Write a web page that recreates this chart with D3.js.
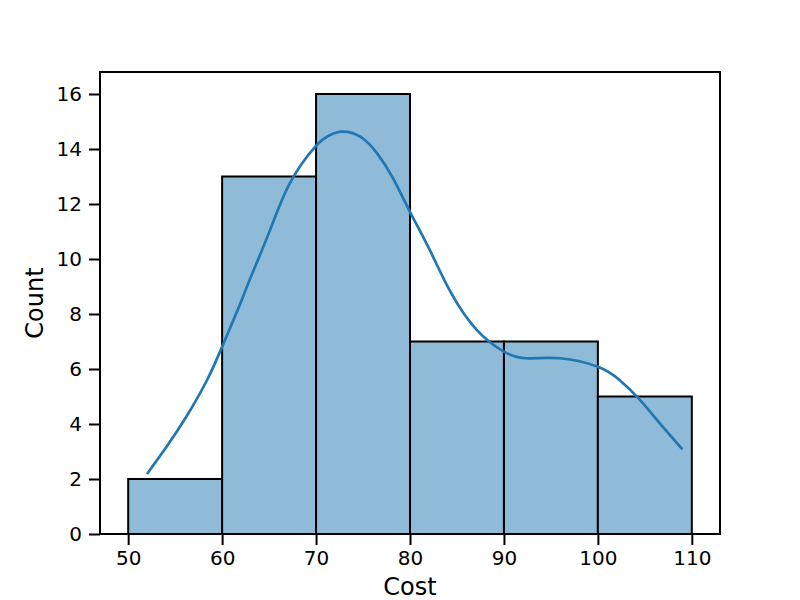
<!DOCTYPE html>
<html>
<head>
<meta charset="utf-8">
<script src="https://cdn.jsdelivr.net/npm/d3@7"></script>
<style>
  body { margin: 0; background: #fff; }
  text { font-family: "DejaVu Sans", sans-serif; fill: #000; }
</style>
</head>
<body>
<div id="chart"></div>
<script>
// histogram bins (Cost) and counts
const binEdges = [50, 60, 70, 80, 90, 100, 110];
const counts = [2, 13, 16, 7, 7, 5];

// kde curve (x = cost, y = scaled count)
const kdeX = [52.0, 54.1, 56.2, 58.4, 60.0, 61.9, 63.0, 65.1, 67.2, 69.9, 71.5, 72.8, 74.7, 76.5, 78.2, 79.9, 82.1, 84.3, 87.1, 90.0, 92.4, 96.0, 100.0, 102.3, 104.5, 106.6, 109.0];
const kdeY = [2.18, 3.18, 4.27, 5.6, 6.81, 8.35, 9.3, 11.05, 12.75, 14.08, 14.51, 14.63, 14.45, 13.84, 12.93, 11.78, 10.33, 8.81, 7.42, 6.63, 6.39, 6.39, 6.08, 5.6, 4.87, 4.02, 3.08];

const xTicks = [50, 60, 70, 80, 90, 100, 110];
const yTicks = [0, 2, 4, 6, 8, 10, 12, 14, 16];

function ready(fn) {
  if (document.readyState != 'loading') {
    fn();
  } else {
    document.addEventListener('DOMContentLoaded', fn);
  }
}

ready(main);

function main() {
  let width = 800;
  let height = 600;
  let margin = ({top: 72, right: 80, bottom: 66, left: 100});

  let bins = counts.map((c, i) => ({x0: binEdges[i], x1: binEdges[i + 1], n: c}));
  let kde = kdeX.map((x, i) => ({x: x, y: kdeY[i]}));

  let x = d3.scaleLinear()
    .domain([47, 113])
    .range([margin.left, width - margin.right]);
  let y = d3.scaleLinear()
    .domain([0, 16.8])
    .range([height - margin.bottom, margin.top]);

  const svg = d3.select("#chart").append("svg")
    .attr("width", width)
    .attr("height", height)
    .attr("viewBox", [0, 0, width, height]);

  svg.append("g")
    .attr("fill", "#8fbbd9")
    .attr("stroke", "#000")
    .attr("stroke-width", 2)
    .selectAll("rect")
    .data(bins)
    .join("rect")
    .attr("x", d => x(d.x0))
    .attr("width", d => x(d.x1) - x(d.x0))
    .attr("y", d => y(d.n))
    .attr("height", d => y(0) - y(d.n));

  let line = d3.line()
    .x(d => x(d.x))
    .y(d => y(d.y))
    .curve(d3.curveNatural);

  svg.append("path")
    .datum(kde)
    .attr("fill", "none")
    .attr("stroke", "#1f77b4")
    .attr("stroke-width", 2.7)
    .attr("d", line);

  let xAxis = g => g
    .attr("transform", `translate(0,${height - margin.bottom})`)
    .call(d3.axisBottom(x).tickValues(xTicks).tickSize(11).tickPadding(6).tickSizeOuter(0))
    .call(g => g.select(".domain").remove())
    .call(g => g.selectAll(".tick line").attr("stroke-width", 2))
    .call(g => g.selectAll(".tick text").style("font-size", "20px"));

  let yAxis = g => g
    .attr("transform", `translate(${margin.left},0)`)
    .call(d3.axisLeft(y).tickValues(yTicks).tickSize(11).tickPadding(7).tickSizeOuter(0))
    .call(g => g.select(".domain").remove())
    .call(g => g.selectAll(".tick line").attr("stroke-width", 2))
    .call(g => g.selectAll(".tick text").style("font-size", "20px"));

  svg.append("g").call(xAxis);
  svg.append("g").call(yAxis);

  // frame
  svg.append("rect")
    .attr("x", margin.left)
    .attr("y", margin.top)
    .attr("width", width - margin.left - margin.right)
    .attr("height", height - margin.top - margin.bottom)
    .attr("fill", "none")
    .attr("stroke", "#000")
    .attr("stroke-width", 2);

  svg.append("text")
    .attr("text-anchor", "middle")
    .attr("x", (margin.left + width - margin.right) / 2)
    .attr("y", 595)
    .style("font-size", "24px")
    .text("Cost");

  svg.append("text")
    .attr("text-anchor", "middle")
    .attr("transform", `translate(43,${(margin.top + height - margin.bottom) / 2}) rotate(-90)`)
    .style("font-size", "24px")
    .text("Count");
}
</script>
</body>
</html>
